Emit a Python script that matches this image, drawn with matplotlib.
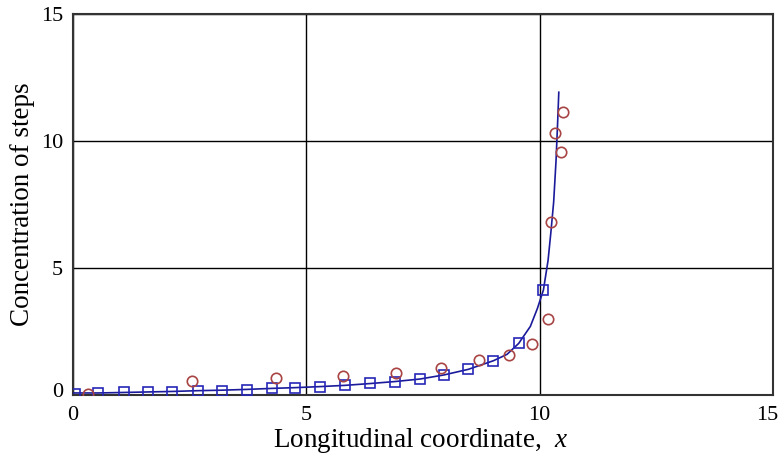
import matplotlib
matplotlib.use("Agg")
import matplotlib.pyplot as plt
import matplotlib.transforms as mtransforms

# Fitted curve
curve_x = [0.0, 0.54, 1.09, 1.6, 2.13, 2.67, 3.19, 3.72, 4.26, 4.76, 5.29, 5.83, 6.36,
           6.9, 7.44, 7.95, 8.47, 9.01, 9.3, 9.55, 9.8, 9.95, 10.08, 10.18, 10.24,
           10.3, 10.35, 10.38, 10.41]
curve_y = [0.08, 0.08, 0.1, 0.12, 0.14, 0.17, 0.19, 0.22, 0.26, 0.29, 0.33, 0.38, 0.45,
           0.53, 0.63, 0.79, 1.01, 1.35, 1.6, 2.03, 2.7, 3.4, 4.13, 5.3, 6.4,
           7.6, 9.2, 10.5, 11.92]

# Square markers (model points)
sq_x = [0.04, 0.54, 1.09, 1.6, 2.13, 2.67, 3.19, 3.72, 4.26, 4.76, 5.29, 5.83, 6.36,
        6.9, 7.44, 7.95, 8.47, 9.01, 9.55, 10.08]
sq_y = [0.05, 0.08, 0.1, 0.12, 0.13, 0.17, 0.17, 0.2, 0.26, 0.29, 0.33, 0.39, 0.46,
        0.53, 0.63, 0.79, 1.01, 1.35, 2.03, 4.13]

# Circle markers (experimental points)
ci_x = [0.33, 2.54, 4.36, 5.79, 6.92, 7.88, 8.7, 9.34, 9.83, 10.17, 10.24, 10.45, 10.33, 10.51]
ci_y = [0.04, 0.55, 0.66, 0.75, 0.85, 1.08, 1.38, 1.56, 2.0, 2.98, 6.82, 9.58, 10.33, 11.13]

xticks = [0, 5, 10, 15]
yticks = [0, 5, 10, 15]

plt.rcParams['font.family'] = ['Liberation Serif', 'DejaVu Serif']
plt.rcParams['mathtext.fontset'] = 'custom'
plt.rcParams['mathtext.rm'] = 'Liberation Serif'
plt.rcParams['mathtext.it'] = 'Liberation Serif:italic'

fig = plt.figure(figsize=(7.8, 4.54), dpi=100)
ax = fig.add_axes([73/780, 1 - 395/454, 700/780, 381/454])

ax.plot(curve_x, curve_y, color='#1a1a9a', lw=1.2, zorder=3)
ax.plot(sq_x, sq_y, linestyle='none', marker='s', markersize=7.2,
        markerfacecolor='none', markeredgecolor='#2626b8', markeredgewidth=1.2, zorder=4)
ax.plot(ci_x, ci_y, linestyle='none', marker='o', markersize=7.5,
        markerfacecolor='none', markeredgecolor='#a84444', markeredgewidth=1.2, zorder=4)

ax.set_xlim(0, 15)
ax.set_ylim(0, 15)
ax.set_xticks(xticks)
ax.set_yticks(yticks)
ax.set_xticklabels([str(t) for t in xticks], fontsize=16)
ax.set_yticklabels([str(t) for t in yticks], fontsize=16)
ax.tick_params(axis='x', length=0, pad=8)
ax.tick_params(axis='y', length=0, pad=7)
ax.grid(True, color='black', lw=1.0)
ax.set_axisbelow(True)
for s in ax.spines.values():
    s.set_linewidth(1.5)
    s.set_color('#333333')

# small offsets as in reference
xl = ax.get_xticklabels()
xl[-1].set_transform(xl[-1].get_transform() + mtransforms.ScaledTranslation(-6/100, 0, fig.dpi_scale_trans))
yl = ax.get_yticklabels()
yl[0].set_transform(yl[0].get_transform() + mtransforms.ScaledTranslation(0, 5/100, fig.dpi_scale_trans))

fig.text(421/780, 1 - 447/454, 'Longitudinal coordinate,  $\\mathit{x}$', ha='center', va='baseline',
         fontsize=19.5)
fig.text(23/780, 1 - 204/454, 'Concentration of steps', ha='center', va='center',
         rotation=90, fontsize=19.5)

fig.savefig('out.png', dpi=100)
